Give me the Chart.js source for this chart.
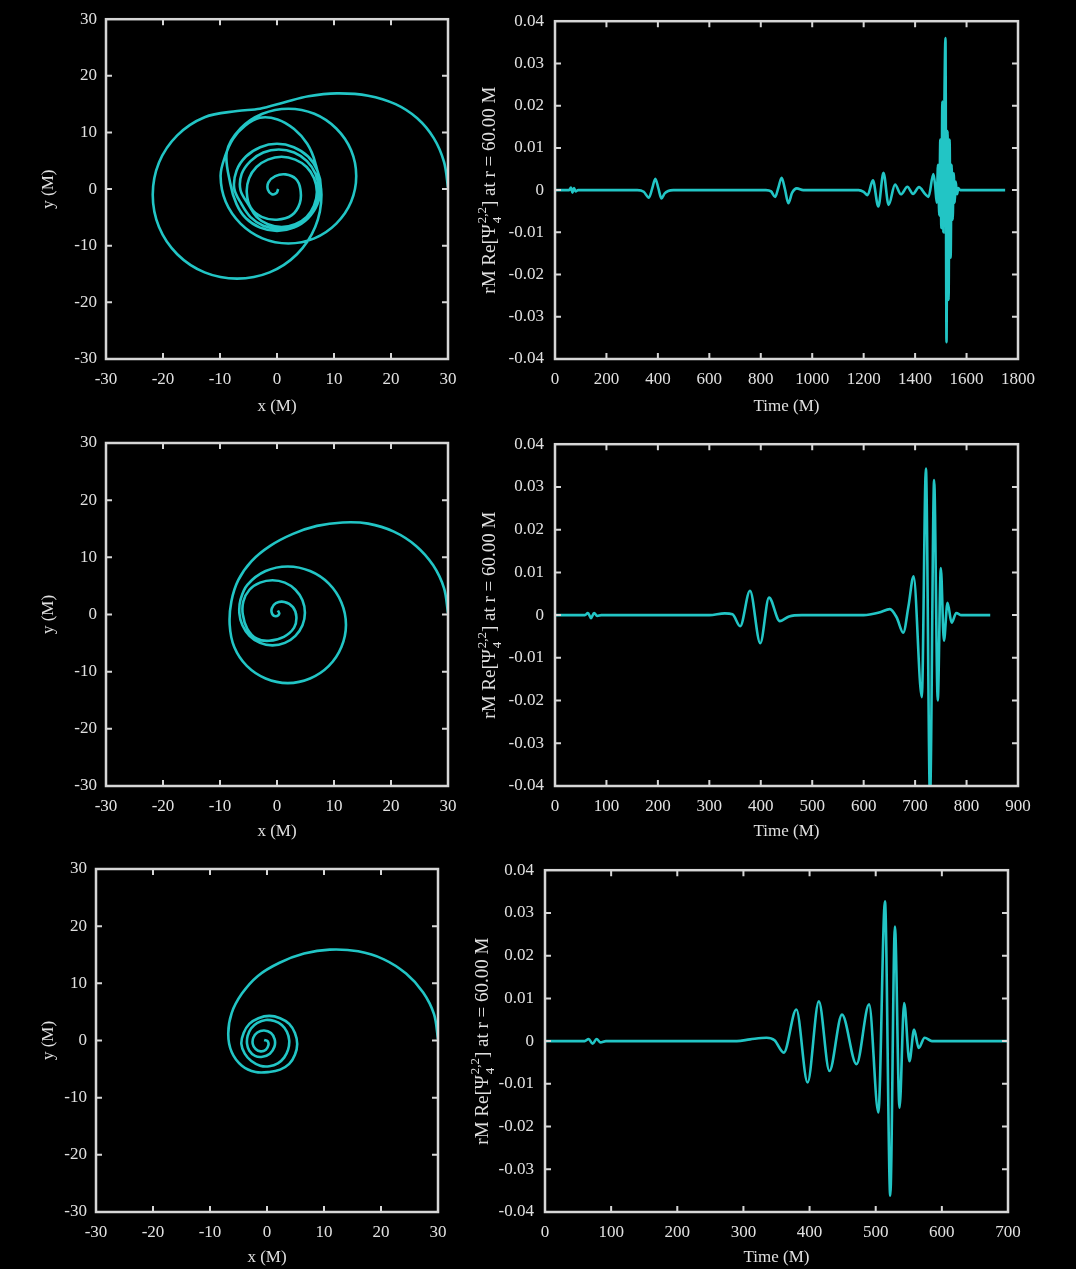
<!DOCTYPE html>
<html>
<head>
<meta charset="utf-8">
<script src="https://cdn.jsdelivr.net/npm/chart.js@4.4.1/dist/chart.umd.min.js"></script>
<style>
  html, body { margin: 0; padding: 0; background: #000; }
  body { width: 1076px; height: 1269px; position: relative; overflow: hidden; }
  canvas { position: absolute; }
</style>
</head>
<body>
<script>
// ---- Orbit tracks (x, y in units of M) ----
const orbit1X = [30,29.3,27.5,24.6,20.8,16,10.5,5.5,1.2,-3,
  -7,-12.7,-17.5,-20.7,-21.8,-20.7,-17.5,-12.7,-7,-1.3,3.5,6.7,7.8,6.7,
  5.3,3.0,0.1,-3.0,-5.6,-7.7,-9.1,
  -9.9,-9,-6.4,-2.55,2,6.55,10.4,13,13.9,13,10.4,6.55,2,-2.55,-6.4,-8.8,
  -8.2,
  -7.1,-5.45,-2.95,0,2.95,5.45,7.1,7.7,7.1,5.45,2.95,0,-2.95,-5.45,-7.1,-7.5,
  -6.2,-4.65,-2.4,0.3,3,5.25,6.77,7.3,6.77,5.25,3,0.3,-2.4,-4.65,-6.2,-6.4,
  -4.9,-3.6,-1.6,0.8,3.2,5.2,6.5,7,6.5,5.2,3.2,0.8,-1.6,-3.6,-4.9,-5.3,
  -4.6,-2.7,0,2.6,4.0,4.1,3.3,1.5,-0.3,-1.5,-1.6,-0.9,-0.1,0.2];
const orbit1Y = [0.3,4.8,9.0,12.5,15.0,16.5,16.9,16.4,15.3,14.2,
  13.8,12.7,9.5,4.7,-1,-6.7,-11.5,-14.7,-15.8,-14.7,-11.5,-6.7,-1,4.7,
  8.0,10.6,12.3,12.6,11.2,8.9,5.8,
  2.3,-2.25,-6.1,-8.7,-9.6,-8.7,-6.1,-2.25,2.3,6.85,10.7,13.3,14.2,13.3,10.7,6.6,
  1.0,
  -2.65,-5.15,-6.8,-7.4,-6.8,-5.15,-2.65,0.3,3.25,5.75,7.4,8,7.4,5.75,3.25,0.1,
  -2.7,-4.95,-6.47,-7,-6.47,-4.95,-2.68,0,2.68,4.95,6.47,7,6.47,4.95,2.68,-0.2,
  -2.9,-4.9,-6.2,-6.7,-6.2,-4.9,-2.9,-0.5,1.9,3.9,5.2,5.7,5.2,3.9,1.9,-0.6,
  -3.3,-4.9,-5.4,-4.6,-2.5,0,1.8,2.6,2.3,1.2,-0.1,-0.9,-0.7,0];

const orbit2X = [30,29.3,27.4,24.4,20.5,16,11.5,7,2.8,-1.2,-4.5,-6.8,-8.0,
  -8.3,-7.5,-5.3,-2,1.9,5.8,9.1,11.3,12.1,11.3,9.1,5.8,1.9,-2,-5.2,
  -6.4,-6.6,
  -6.07,-4.83,-2.98,-0.8,1.38,3.23,4.47,4.9,4.47,3.23,1.38,-0.8,-2.98,-4.83,-5.9,-6.0,
  -5.2,-3.6,-1.4,1.2,3.0,3.4,2.8,1.3,-0.2,-0.9,-0.85,-0.2,0.4,0.15];
const orbit2Y = [0.3,4.6,8.6,12.0,14.5,15.9,16.1,15.5,14.1,12,9.3,6.0,2.3,
  -1.8,-5.7,-9.0,-11.2,-12,-11.2,-9.0,-5.7,-1.8,2.1,5.4,7.6,8.4,7.6,5.2,
  2.6,0.2,
  -1.88,-3.73,-4.97,-5.4,-4.97,-3.73,-1.88,0.3,2.48,4.33,5.57,6.0,5.57,4.33,2.3,0,
  -2.5,-4.2,-4.6,-3.9,-2.3,-0.4,1.3,2.2,2.0,1.1,0.1,-0.3,0.15,0.7];

const orbit3X = [30,29.3,27.4,24.4,20.5,16,11,6.5,2.2,-1.6,-4.4,-6.2,-6.8,-6.2,-4.4,-2,
  0.4,2.3,3.9,4.9,5.3,4.9,3.9,2.3,0.4,-1.5,-3.1,-4.1,-4.5,
  -3.9,-2.75,-1.2,0.4,1.9,3.0,3.7,3.9,3.5,2.6,1.3,-0.2,-1.7,-2.8,-3.4,-3.5,
  -3.1,-2.1,-0.8,0.5,1.3,1.35,0.7,-0.5,-1.7,-2.4,-2.5,-2.0,-1.1,-0.2,0.25,0.1,-0.5];
const orbit3Y = [0.3,4.6,8.4,11.7,14.2,15.6,15.9,15.2,13.6,11.3,8.2,4.8,1.2,-2.0,-4.4,-5.5,
  -5.5,-5.1,-4.1,-2.5,-0.6,1.3,2.9,3.9,4.3,3.9,2.9,1.3,-0.6,
  -2.3,-3.6,-4.4,-4.5,-4.0,-3.0,-1.6,0,1.5,2.7,3.4,3.6,3.1,2.1,0.8,-0.6,
  -1.8,-2.7,-2.85,-2.3,-1.1,0.2,1.3,1.75,1.4,0.5,-0.6,-1.5,-1.9,-1.6,-0.8,-0.1,0.1];

// ---- Waveforms: time (M) and rM Re[Psi4 (2,2)] ----
const wave1T = [0,55,62,68,74,80,90,
  320,345,365,378,390,402,414,426,440,460,
  820,840,856,868,881,894,907,922,940,965,
  1180,1200,1215,1236,1257,1277,1297,1322,1345,1370,1392,1415,1440,1452,1471,
  1478,1484,1489,1494,1498,1502,1506,1510,1514,1518,1522,1526,1530,1534,1538,1542,1546,1550,1554,1558,1563,1568,1575,1750];
const wave1V = [0,0,0.0006,-0.0006,0.0005,-0.0003,0,
  0,-0.0004,-0.0018,0.0004,0.0027,0.0004,-0.002,-0.0008,-0.0002,0,
  0,-0.0003,-0.0016,0.0005,0.0029,0.0002,-0.0031,-0.0006,0.0004,0,
  0,-0.0004,-0.0012,0.0023,-0.0039,0.0041,-0.0035,0.0013,-0.0010,0.0008,-0.0009,0.0007,-0.0010,-0.0016,0.0038,
  0.001,-0.003,0.006,-0.006,0.012,-0.009,0.021,-0.010,0.021,0.036,-0.036,0.014,-0.026,0.012,-0.016,0.006,-0.007,0.004,-0.003,0.002,-0.001,0.0005,0,0];

const wave2T = [0,58,64,70,76,82,90,
  300,330,345,360,379,399,416,437,455,480,
  600,630,651,664,677,687,697,713,721,729,737,744,750,756,763,771,780,790,846];
const wave2V = [0,0,0.0005,-0.0007,0.0005,-0.0002,0,
  0,0.0004,0.0002,-0.0026,0.0057,-0.0066,0.0041,-0.0014,-0.0003,0,
  0,0.0006,0.0014,-0.0005,-0.0041,0.002,0.0091,-0.0192,0.0343,-0.043,0.0316,-0.0200,0.0110,-0.0060,0.0029,-0.0018,0.0005,0,0];

const wave3T = [0,60,66,72,78,84,92,
  290,310,335,347,361,380,397,414,430,449,471,490,504,514,522,529,536,543,551,558,565,574,585,700];
const wave3V = [0,0,0.0005,-0.0006,0.0005,-0.0003,0,
  0,0.0004,0.0008,0.0002,-0.0027,0.0074,-0.0097,0.0093,-0.0070,0.0062,-0.0054,0.0086,-0.0167,0.0327,-0.0362,0.0268,-0.0156,0.0089,-0.0047,0.0027,-0.0016,0.0008,0,0];

// ---- Tick values and labels ----
const orbitTicks = [-30,-20,-10,0,10,20,30];
const orbitTickLabels = ['-30','-20','-10','0','10','20','30'];
const ampTicks = [-0.04,-0.03,-0.02,-0.01,0,0.01,0.02,0.03,0.04];
const ampTickLabels = ['-0.04','-0.03','-0.02','-0.01','0','0.01','0.02','0.03','0.04'];
const time1Ticks = [0,200,400,600,800,1000,1200,1400,1600,1800];
const time1Labels = ['0','200','400','600','800','1000','1200','1400','1600','1800'];
const time2Ticks = [0,100,200,300,400,500,600,700,800,900];
const time2Labels = ['0','100','200','300','400','500','600','700','800','900'];
const time3Ticks = [0,100,200,300,400,500,600,700];
const time3Labels = ['0','100','200','300','400','500','600','700'];

// ---- Styling ----
const LINE = '#22c5c5';
const INK = '#e0e0e0';
const FRAME = '#d6d6d6';
const FONT = "'Liberation Serif', 'Times New Roman', serif";

const orbitTitle = [{ text: 'y (M)' }];
const waveTitle = [{ text: 'rM Re[\u03A8' }, { sub: '4', sup: '2,2' }, { text: '] at r = 60.00 M' }];

function toPoints(xs, ys) { return xs.map((x, i) => ({ x: x, y: ys[i] })); }

const panels = [
  { box: { l: 106, t: 16, r: 448, b: 359 }, kind: 'orbit', xs: orbit1X, ys: orbit1Y,
    xMin: -30, xMax: 30, xTicks: orbitTicks, xLabels: orbitTickLabels, xTitle: 'x (M)',
    yTitle: orbitTitle, xTitleGap: 48, yTitleGap: 59 },
  { box: { l: 555, t: 16, r: 1018, b: 359 }, kind: 'wave', xs: wave1T, ys: wave1V,
    xMin: 0, xMax: 1800, xTicks: time1Ticks, xLabels: time1Labels, xTitle: 'Time (M)',
    yTitle: waveTitle, xTitleGap: 48, yTitleGap: 66 },
  { box: { l: 106, t: 443, r: 448, b: 786 }, kind: 'orbit', xs: orbit2X, ys: orbit2Y,
    xMin: -30, xMax: 30, xTicks: orbitTicks, xLabels: orbitTickLabels, xTitle: 'x (M)',
    yTitle: orbitTitle, xTitleGap: 46, yTitleGap: 59 },
  { box: { l: 555, t: 443, r: 1018, b: 786 }, kind: 'wave', xs: wave2T, ys: wave2V,
    xMin: 0, xMax: 900, xTicks: time2Ticks, xLabels: time2Labels, xTitle: 'Time (M)',
    yTitle: waveTitle, xTitleGap: 46, yTitleGap: 66 },
  { box: { l: 96, t: 869, r: 438, b: 1212 }, kind: 'orbit', xs: orbit3X, ys: orbit3Y,
    xMin: -30, xMax: 30, xTicks: orbitTicks, xLabels: orbitTickLabels, xTitle: 'x (M)',
    yTitle: orbitTitle, xTitleGap: 46, yTitleGap: 49 },
  { box: { l: 545, t: 869, r: 1008, b: 1212 }, kind: 'wave', xs: wave3T, ys: wave3V,
    xMin: 0, xMax: 700, xTicks: time3Ticks, xLabels: time3Labels, xTitle: 'Time (M)',
    yTitle: waveTitle, xTitleGap: 46, yTitleGap: 63 }
];

// Text with an optional stacked sub/superscript, laid along the x axis of the current transform.
function drawRich(ctx, parts, size) {
  const main = size + 'px ' + FONT;
  const small = Math.round(size * 0.68) + 'px ' + FONT;
  let total = 0;
  const widths = parts.map(p => {
    let w;
    if (p.text !== undefined) { ctx.font = main; w = ctx.measureText(p.text).width; }
    else { ctx.font = small; w = Math.max(ctx.measureText(p.sub).width, ctx.measureText(p.sup).width) + 1; }
    total += w; return w;
  });
  let x = -total / 2;
  const base = size * 0.33;
  ctx.textAlign = 'left';
  ctx.textBaseline = 'alphabetic';
  parts.forEach((p, i) => {
    if (p.text !== undefined) { ctx.font = main; ctx.fillText(p.text, x, base); }
    else {
      ctx.font = small;
      ctx.fillText(p.sub, x + 1, base + size * 0.3);
      ctx.fillText(p.sup, x + 1, base - size * 0.5);
    }
    x += widths[i];
  });
}

function framePlugin(p) {
  return {
    id: 'frameAndTitles',
    afterDatasetsDraw(chart) {
      const ctx = chart.ctx, a = chart.chartArea;
      const sx = chart.scales.x, sy = chart.scales.y;
      const len = 6;
      ctx.save();
      ctx.strokeStyle = FRAME;
      ctx.lineWidth = 2;
      ctx.beginPath();
      sx.ticks.forEach(t => {
        const px = sx.getPixelForValue(t.value);
        if (px <= a.left + 1 || px >= a.right - 1) return;
        ctx.moveTo(px, a.bottom); ctx.lineTo(px, a.bottom - len);
        ctx.moveTo(px, a.top); ctx.lineTo(px, a.top + len);
      });
      sy.ticks.forEach(t => {
        const py = sy.getPixelForValue(t.value);
        if (py <= a.top + 1 || py >= a.bottom - 1) return;
        ctx.moveTo(a.left, py); ctx.lineTo(a.left + len, py);
        ctx.moveTo(a.right, py); ctx.lineTo(a.right - len, py);
      });
      ctx.stroke();
      ctx.lineWidth = 2.5;
      ctx.strokeRect(a.left, a.top, a.right - a.left, a.bottom - a.top);
      ctx.restore();
    },
    afterDraw(chart) {
      const ctx = chart.ctx, a = chart.chartArea;
      ctx.save();
      ctx.fillStyle = INK;
      ctx.font = '17px ' + FONT;
      ctx.textAlign = 'center';
      ctx.textBaseline = 'middle';
      ctx.fillText(p.xTitle, (a.left + a.right) / 2, a.bottom + p.xTitleGap);
      ctx.translate(a.left - p.yTitleGap, (a.top + a.bottom) / 2);
      ctx.rotate(-Math.PI / 2);
      drawRich(ctx, p.yTitle, p.kind === 'orbit' ? 17 : 19);
      ctx.restore();
    }
  };
}

panels.forEach(p => {
  const padL = p.kind === 'orbit' ? 100 : 95;
  const padT = p.box.t >= 20 ? 20 : p.box.t;
  const padR = 32, padB = 58;
  const w = p.box.r - p.box.l, h = p.box.b - p.box.t;
  const canvas = document.createElement('canvas');
  canvas.width = w + padL + padR;
  canvas.height = h + padT + padB;
  canvas.style.left = (p.box.l - padL) + 'px';
  canvas.style.top = (p.box.t - padT) + 'px';
  document.body.appendChild(canvas);

  const isOrbit = p.kind === 'orbit';
  const yTicks = isOrbit ? orbitTicks : ampTicks;
  const yLabels = isOrbit ? orbitTickLabels : ampTickLabels;

  new Chart(canvas, {
    type: 'scatter',
    data: {
      datasets: [{
        data: toPoints(p.xs, p.ys),
        showLine: true,
        borderColor: LINE,
        borderWidth: 2.6,
        pointRadius: 0,
        fill: false,
        tension: isOrbit ? 0.35 : 0,
        cubicInterpolationMode: isOrbit ? 'default' : 'monotone'
      }]
    },
    options: {
      responsive: false,
      animation: false,
      devicePixelRatio: 1,
      events: [],
      layout: { padding: { left: 0, top: padT, right: padR, bottom: 0 } },
      plugins: { legend: { display: false }, tooltip: { enabled: false } },
      scales: {
        x: {
          type: 'linear', position: 'bottom', min: p.xMin, max: p.xMax,
          grid: { display: false, drawTicks: false }, border: { display: false },
          afterBuildTicks: s => { s.ticks = p.xTicks.map(v => ({ value: v })); },
          afterFit: s => { s.height = padB; },
          ticks: { color: INK, font: { family: FONT, size: 17 }, padding: 10, autoSkip: false,
                   maxRotation: 0, minRotation: 0, callback: (v, i) => p.xLabels[i] }
        },
        y: {
          type: 'linear', position: 'left',
          min: isOrbit ? -30 : -0.04, max: isOrbit ? 30 : 0.04,
          grid: { display: false, drawTicks: false }, border: { display: false },
          afterBuildTicks: s => { s.ticks = yTicks.map(v => ({ value: v })); },
          afterFit: s => { s.width = padL; },
          ticks: { color: INK, font: { family: FONT, size: 17 }, padding: isOrbit ? 9 : 11,
                   autoSkip: false, callback: (v, i) => yLabels[i] }
        }
      }
    },
    plugins: [framePlugin(p)]
  });
});
</script>
</body>
</html>
